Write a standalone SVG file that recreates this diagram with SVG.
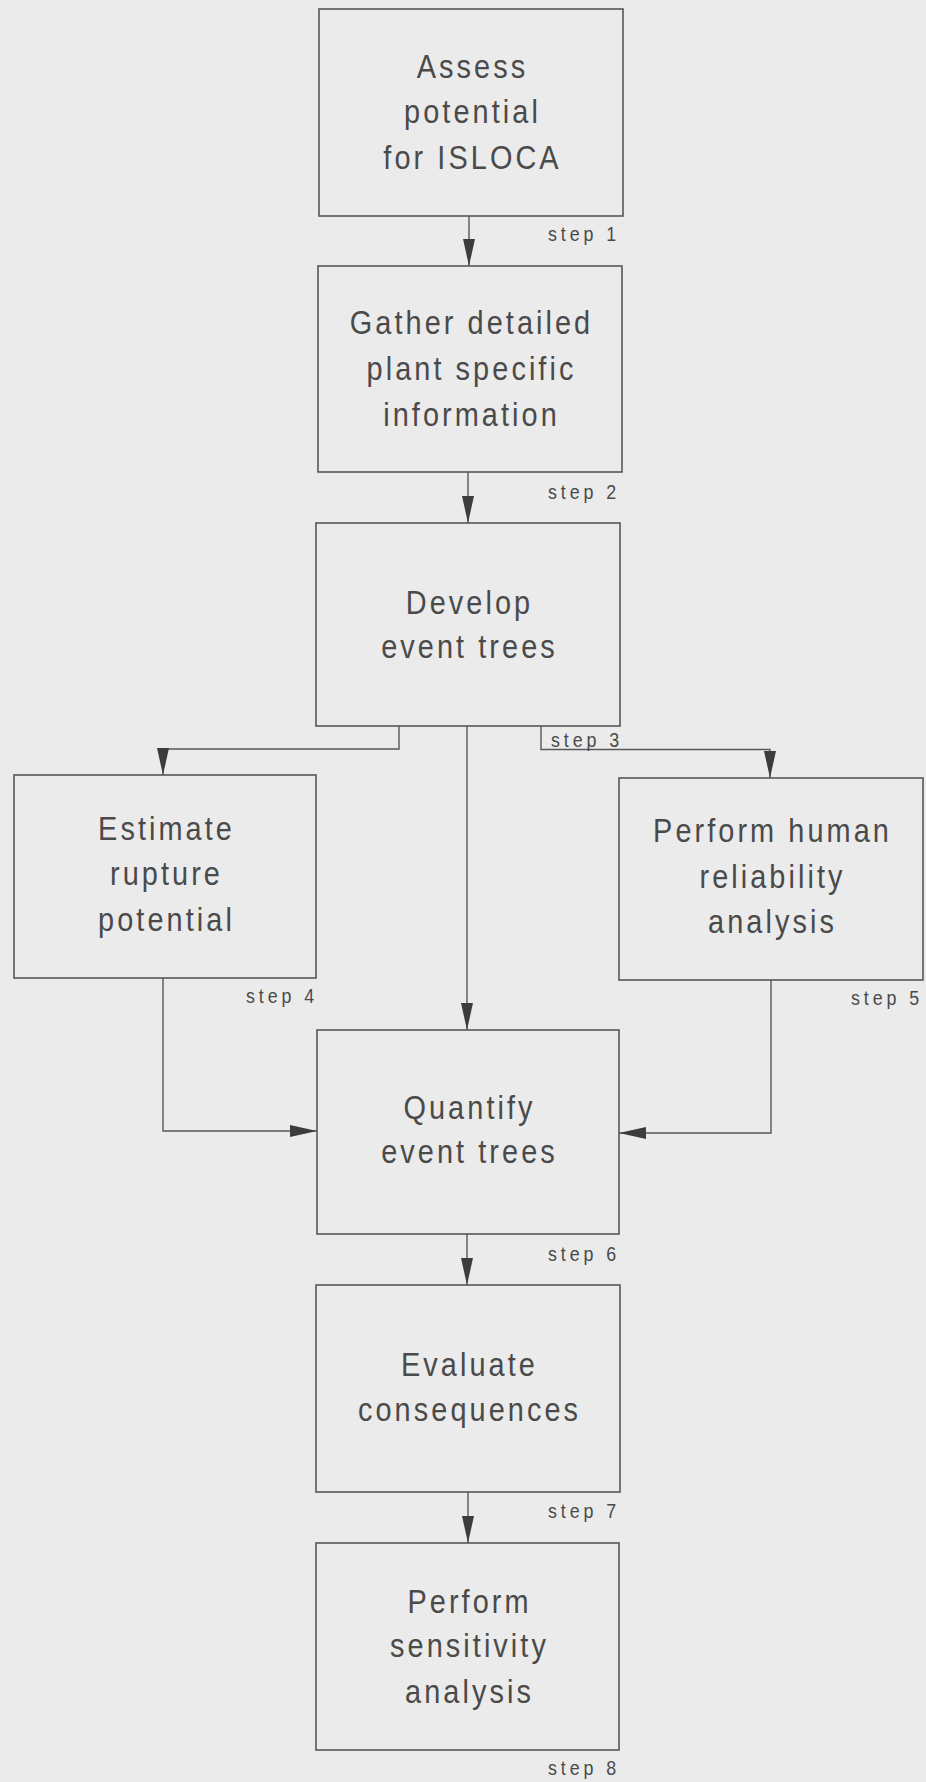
<svg xmlns="http://www.w3.org/2000/svg" width="926" height="1782" viewBox="0 0 926 1782">
<style>
.bg{fill:#ebebeb}
.box{fill:none;stroke:#585858;stroke-width:1.6}
.t{font-family:"Liberation Sans",Arial,sans-serif;font-size:34px;letter-spacing:3.6px;fill:#4a4a4a;text-anchor:middle}
.s{font-family:"Liberation Sans",Arial,sans-serif;font-size:21px;letter-spacing:4.6px;fill:#4a4a4a}
.c{fill:none;stroke:#585858;stroke-width:1.4;marker-end:url(#ah)}
</style>
<defs>
<marker id="ah" markerUnits="userSpaceOnUse" markerWidth="27" markerHeight="12" refX="27" refY="6" orient="auto">
<path d="M0,0 L27,6 L0,12 z" fill="#3c3c3c"/>
</marker>
</defs>
<rect class="bg" x="0" y="0" width="926" height="1782"/>
<g id="connectors">
<path class="c" d="M469,216 V266"/>
<path class="c" d="M468,472 V523"/>
<path class="c" d="M399,726 V749 H163 V775"/>
<path class="c" d="M467,726 V1030"/>
<path class="c" d="M541,726 V749.5 H770 V778"/>
<path class="c" d="M163,978 V1131 H317"/>
<path class="c" d="M771,980 V1133 H619"/>
<path class="c" d="M467,1234 V1285"/>
<path class="c" d="M468,1492 V1543"/>
</g>
<g id="step1">
<rect class="box" x="319" y="9" width="304" height="207"/>
<text class="t" transform="translate(472.5,78) scale(0.85,1)">Assess</text>
<text class="t" transform="translate(472.5,123) scale(0.85,1)">potential</text>
<text class="t" transform="translate(472.5,169) scale(0.85,1)">for ISLOCA</text>
<text class="s" transform="translate(548,241) scale(0.85,1)">step 1</text>
</g>
<g id="step2">
<rect class="box" x="318" y="266" width="304" height="206"/>
<text class="t" transform="translate(471.5,334) scale(0.85,1)">Gather detailed</text>
<text class="t" transform="translate(471.5,380) scale(0.85,1)">plant specific</text>
<text class="t" transform="translate(471.5,426) scale(0.85,1)">information</text>
<text class="s" transform="translate(548,499) scale(0.85,1)">step 2</text>
</g>
<g id="step3">
<rect class="box" x="316" y="523" width="304" height="203"/>
<text class="t" transform="translate(469.5,614) scale(0.85,1)">Develop</text>
<text class="t" transform="translate(469.5,658) scale(0.85,1)">event trees</text>
<text class="s" transform="translate(551,747) scale(0.85,1)">step 3</text>
</g>
<g id="step4">
<rect class="box" x="14" y="775" width="302" height="203"/>
<text class="t" transform="translate(166.5,840) scale(0.85,1)">Estimate</text>
<text class="t" transform="translate(166.5,885) scale(0.85,1)">rupture</text>
<text class="t" transform="translate(166.5,931) scale(0.85,1)">potential</text>
<text class="s" transform="translate(246,1003) scale(0.85,1)">step 4</text>
</g>
<g id="step5">
<rect class="box" x="619" y="778" width="304" height="202"/>
<text class="t" transform="translate(772.5,842) scale(0.85,1)">Perform human</text>
<text class="t" transform="translate(772.5,888) scale(0.85,1)">reliability</text>
<text class="t" transform="translate(772.5,933) scale(0.85,1)">analysis</text>
<text class="s" transform="translate(851,1005) scale(0.85,1)">step 5</text>
</g>
<g id="step6">
<rect class="box" x="317" y="1030" width="302" height="204"/>
<text class="t" transform="translate(469.5,1119) scale(0.85,1)">Quantify</text>
<text class="t" transform="translate(469.5,1163) scale(0.85,1)">event trees</text>
<text class="s" transform="translate(548,1261) scale(0.85,1)">step 6</text>
</g>
<g id="step7">
<rect class="box" x="316" y="1285" width="304" height="207"/>
<text class="t" transform="translate(469.5,1376) scale(0.85,1)">Evaluate</text>
<text class="t" transform="translate(469.5,1421) scale(0.85,1)">consequences</text>
<text class="s" transform="translate(548,1518) scale(0.85,1)">step 7</text>
</g>
<g id="step8">
<rect class="box" x="316" y="1543" width="303" height="207"/>
<text class="t" transform="translate(469.5,1613) scale(0.85,1)">Perform</text>
<text class="t" transform="translate(469.5,1657) scale(0.85,1)">sensitivity</text>
<text class="t" transform="translate(469.5,1703) scale(0.85,1)">analysis</text>
<text class="s" transform="translate(548,1775) scale(0.85,1)">step 8</text>
</g>
</svg>
